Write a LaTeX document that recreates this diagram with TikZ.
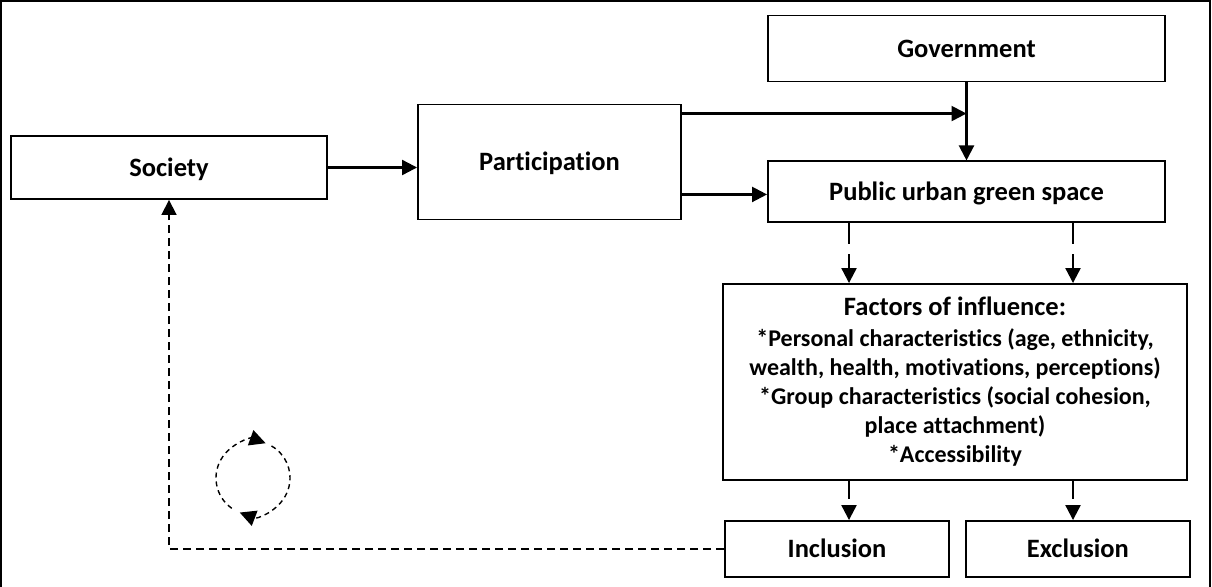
\documentclass[tikz,border=0pt]{standalone}
\usepackage{fontspec}
\setmainfont{Carlito}[Ligatures=NoCommon]
\usetikzlibrary{positioning,arrows.meta}

\begin{document}
\begin{tikzpicture}[
    x=1pt, y=-1pt,
    font=\bfseries\fontsize{26.5}{30}\selectfont,
    >={Triangle[length=15pt,width=15pt]},
    box/.style={
        draw=black,
        line width=1.9pt,
        inner sep=0pt,
        align=center,
        text height=17pt,
        text depth=0pt
    },
    arrow/.style={
        ->,
        line width=2.2pt,
        draw=black
    },
    dasharrow/.style={
        ->,
        line width=2.2pt,
        draw=black,
        dash pattern=on 21pt off 10pt
    },
    feedback/.style={
        ->,
        line width=1.8pt,
        draw=black,
        dash pattern=on 8pt off 5pt
    },
    cycle/.style={
        -{Triangle[length=16pt,width=16pt]},
        line width=1.4pt,
        draw=black,
        dash pattern=on 5pt off 4pt
    }
]
    \useasboundingbox (0,0) rectangle (1212,586);

    % Frame
    \draw[line width=2pt] (1,1) rectangle (1210,600);

    % 1. Society and participation
    \node[box, minimum width=316pt, minimum height=63pt] (soc) at (169,167.5) {Society};
    \node[box, minimum width=263pt, minimum height=115pt] (part) at (549.5,162) {Participation};

    % 2. Government and green space
    \node[box, minimum width=397pt, minimum height=66pt] (gov) at (966.5,48.5) {Government};
    \node[box, minimum width=397pt, minimum height=61pt, below=78pt of gov.south, anchor=north] (pugs) {Public urban green space};

    % 3. Factors of influence
    \node[box, minimum width=464pt, minimum height=196pt, text height=, text depth=,
          font=\bfseries\fontsize{24}{29}\selectfont] (factors) at (955,382) {
        {\fontsize{26.5}{29}\selectfont Factors of influence:}\\[2pt]
        *Personal characteristics (age, ethnicity,\\
        wealth, health, motivations, perceptions)\\
        *Group characteristics (social cohesion,\\
        place attachment)\\
        *Accessibility
    };

    % 4. Outcomes
    \node[box, minimum width=224pt, minimum height=56pt] (incl) at (837,549) {Inclusion};
    \node[box, minimum width=224pt, minimum height=56pt, right=15pt of incl] (excl) {Exclusion};

    % Connections
    \draw[arrow] (soc.east) -- (soc.east -| part.west);
    \draw[arrow] ([yshift=-10pt]part.north east) -- ([yshift=-10pt]part.north east -| gov.south);
    \draw[arrow] ([yshift=26pt]part.south east) -- ([yshift=26pt]part.south east -| pugs.west);
    \draw[arrow] (gov.south) -- (pugs.north);

    % Green space to factors, factors to outcomes
    \draw[dasharrow] (pugs.south -| 849,0) -- (factors.north -| 849,0);
    \draw[dasharrow] (pugs.south -| 1073,0) -- (factors.north -| 1073,0);
    \draw[dasharrow, dash pattern=on 18pt off 14pt] (factors.south -| 849,0) -- (incl.north -| 849,0);
    \draw[dasharrow, dash pattern=on 18pt off 14pt] (factors.south -| 1073,0) -- (excl.north -| 1073,0);

    % Feedback loop
    \draw[feedback] (incl.west) -| (soc.south);
    \coordinate (cyc) at (253,478);
    \draw[cycle] (cyc) ++(-235:37) arc[start angle=-235, end angle=-70, radius=37];
    \draw[cycle] (cyc) ++(-60:37) arc[start angle=-60, end angle=111, radius=37];

\end{tikzpicture}
\end{document}
